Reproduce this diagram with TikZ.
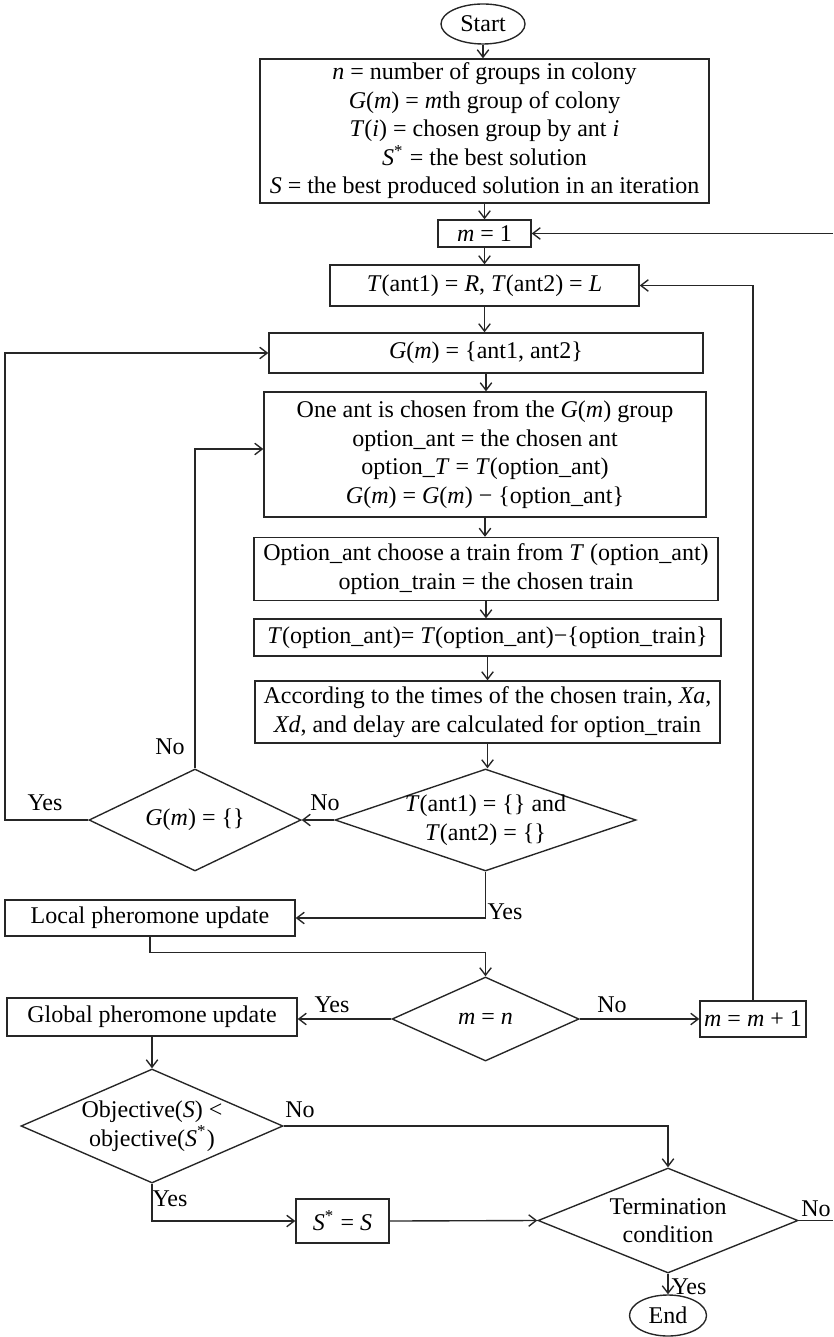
\documentclass[tikz,border=0pt]{standalone}
\usepackage{fontspec}
\setmainfont{Liberation Serif}
\usetikzlibrary{shapes.geometric,arrows.meta,calc}
\begin{document}
\begin{tikzpicture}[x=0.4pt,y=-0.4pt,
  every node/.style={font=\fontsize{9.6}{11.4}\selectfont, text=black},
  box/.style={draw=black!85, line width=0.55pt, rectangle, inner sep=0pt, align=center},
  dia/.style={draw=black!85, line width=0.55pt, diamond, inner sep=0pt},
  term/.style={draw=black!85, line width=0.55pt, ellipse, inner sep=0pt},
  lab/.style={inner sep=0pt},
  conn/.style={draw=black!85, line width=0.55pt},
  arr/.style={conn, -{Straight Barb[length=3pt,width=4.6pt]}}]
\useasboundingbox (0,0) rectangle (833,1337);

% nodes
\node[term, minimum width=33.6pt, minimum height=16pt] (start) at (483,24) {Start};
\node[box, minimum width=179.6pt, minimum height=57.6pt] (init) at (484.5,131)
  {\textit{n} = number of groups in colony\\
   \textit{G}(\textit{m}) = \textit{m}th group of colony\\
   \textit{T}(\textit{i}) = chosen group by ant \textit{i}\\
   \textit{S}\textsuperscript{*} = the best solution\\
   \textit{S} = the best produced solution in an iteration};
\node[box, minimum width=37.2pt, minimum height=10.8pt] (m1) at (484.5,233.5) {\textit{m} = 1};
\node[box, minimum width=123.6pt, minimum height=16.4pt] (tant) at (484.5,285.5)
  {\textit{T}(ant1) = \textit{R}, \textit{T}(ant2) = \textit{L}};
\node[box, minimum width=173.6pt, minimum height=16pt] (gm) at (486,353)
  {\textit{G}(\textit{m}) = \{ant1, ant2\}};
\node[box, minimum width=176.8pt, minimum height=50pt] (onea) at (485,454.5)
  {One ant is chosen from the \textit{G}(\textit{m}) group\\
   option\_ant = the chosen ant\\
   option\_\textit{T} = \textit{T}(option\_ant)\\
   \textit{G}(\textit{m}) = \textit{G}(\textit{m}) − \{option\_ant\}};
\node[box, minimum width=185.6pt, minimum height=25.2pt] (opt) at (486,569)
  {Option\_ant choose a train from \textit{T} (option\_ant)\\
   option\_train = the chosen train};
\node[box, minimum width=186.8pt, minimum height=14.8pt] (topt) at (487.5,637.5)
  {\textit{T}(option\_ant)= \textit{T}(option\_ant)−\{option\_train\}};
\node[box, minimum width=186pt, minimum height=24.8pt] (acc) at (487.5,712)
  {According to the times of the chosen train, \textit{Xa},\\
   \textit{Xd}, and delay are calculated for option\_train};
\node[dia, minimum width=120.4pt, minimum height=40.8pt,
  label={[align=center]center:\textit{T}(ant1) = \{\} and\\\textit{T}(ant2) = \{\}}] (d1) at (485.5,820) {};
\node[dia, minimum width=84.8pt, minimum height=40.8pt,
  label={center:\textit{G}(\textit{m}) = \{\}}] (d2) at (195,820) {};
\node[box, minimum width=116pt, minimum height=14.4pt] (local) at (150,918) {Local pheromone update};
\node[dia, minimum width=74.8pt, minimum height=33.6pt,
  label={center:\textit{m} = \textit{n}}] (d3) at (485.5,1019) {};
\node[box, minimum width=116pt, minimum height=15.2pt] (global) at (152,1017) {Global pheromone update};
\node[box, minimum width=42.4pt, minimum height=14.4pt] (mm1) at (753,1019) {\textit{m} = \textit{m} + 1};
\node[dia, minimum width=104.8pt, minimum height=45.6pt,
  label={[align=center]center:Objective(\textit{S}) <\\objective(\textit{S}\textsuperscript{*})}] (d4) at (152,1126) {};
\node[dia, minimum width=104pt, minimum height=42pt,
  label={[align=center]center:Termination\\condition}] (d5) at (668,1220.5) {};
\node[box, minimum width=37.2pt, minimum height=17.6pt] (ss) at (342.5,1221) {\textit{S}\textsuperscript{*} = \textit{S}};
\node[term, minimum width=30.8pt, minimum height=16.4pt] (end) at (668,1315.5) {End};

\coordinate (lft) at (5,820);
\coordinate (rt1) at (833,1220.5);
\coordinate (rt2) at (833,233.5);

% labels
\node[lab] (l1) at (170,747) {No};
\node[lab] (l2) at (45,803) {Yes};
\node[lab] (l3) at (325,803) {No};
\node[lab] (l4) at (505,912) {Yes};
\node[lab] (l5) at (332,1005) {Yes};
\node[lab] (l6) at (612,1005) {No};
\node[lab] (l7) at (300,1110) {No};
\node[lab] (l8) at (170,1199) {Yes};
\node[lab] (l9) at (816,1209) {No};
\node[lab] (l10) at (689,1287) {Yes};

% connectors
\draw[arr] (start.south) -- (start.south |- init.north);
\draw[arr] (init.south) -- (init.south |- m1.north);
\draw[arr] (m1.south) -- (m1.south |- tant.north);
\draw[arr] (tant.south) -- (tant.south |- gm.north);
\draw[arr] (gm.south) -- (gm.south |- onea.north);
\draw[arr] (onea.south) -- (onea.south |- opt.north);
\draw[arr] (opt.south) -- (opt.south |- topt.north);
\draw[arr] (topt.south) -- (topt.south |- acc.north);
\draw[arr] (acc.south) -- (acc.south |- d1.north);
\draw[arr] (d1.west) -- (d2.east);
\draw[arr] (d2.north) |- ($(onea.west)+(0,-5.5)$);
\draw[arr] (d2.west) -- (lft) |- (gm.west);
\draw[arr] (d1.south) |- (local.east);
\draw[arr] (local.south) |- ($(d3.north)+(0,-24)$) -- (d3.north);
\draw[arr] (d3.west) -- (d3.west -| global.east);
\draw[arr] (d3.east) -- (mm1.west);
\draw[arr] (mm1.north) |- (tant.east);
\draw[arr] (global.south) -- (d4.north);
\draw[arr] (d4.east) -| (d5.north);
\draw[arr] (d4.south) |- (ss.west);
\draw[arr] (ss.east) -- (d5.west);
\draw[arr] (d5.south) -- (end.north);
\draw[conn] (d5.east) -- (rt1);
\draw[arr] (rt2) -- (m1.east);
\end{tikzpicture}
\end{document}
